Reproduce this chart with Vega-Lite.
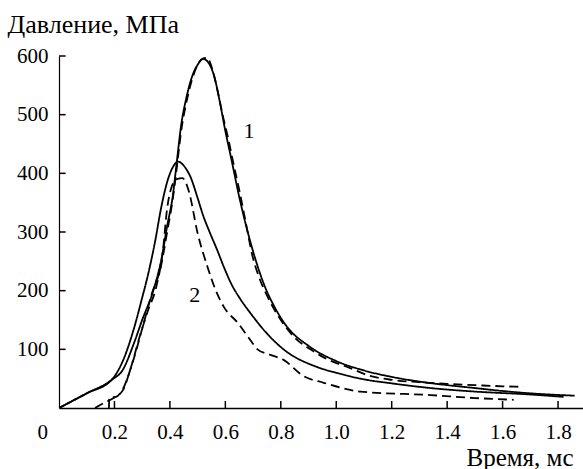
{
  "$schema": "https://vega.github.io/schema/vega-lite/v6.json",
  "width": 524,
  "height": 352,
  "autosize": {"type": "none"},
  "padding": {"left": 59, "top": 56, "right": 0, "bottom": 61},
  "background": "white",
  "config": {"view": {"stroke": null}, "font": "Liberation Serif"},
  "datasets": {
    "curves": [
      {"series": "1s", "style": "solid", "t": 0, "p": 0},
      {"series": "1s", "style": "solid", "t": 0.1, "p": 25},
      {"series": "1s", "style": "solid", "t": 0.19, "p": 48},
      {"series": "1s", "style": "solid", "t": 0.23, "p": 65},
      {"series": "1s", "style": "solid", "t": 0.27, "p": 110},
      {"series": "1s", "style": "solid", "t": 0.30, "p": 150},
      {"series": "1s", "style": "solid", "t": 0.34, "p": 200},
      {"series": "1s", "style": "solid", "t": 0.37, "p": 255},
      {"series": "1s", "style": "solid", "t": 0.39, "p": 310},
      {"series": "1s", "style": "solid", "t": 0.41, "p": 360},
      {"series": "1s", "style": "solid", "t": 0.425, "p": 420},
      {"series": "1s", "style": "solid", "t": 0.44, "p": 480},
      {"series": "1s", "style": "solid", "t": 0.46, "p": 530},
      {"series": "1s", "style": "solid", "t": 0.48, "p": 565},
      {"series": "1s", "style": "solid", "t": 0.50, "p": 585},
      {"series": "1s", "style": "solid", "t": 0.52, "p": 595},
      {"series": "1s", "style": "solid", "t": 0.54, "p": 588},
      {"series": "1s", "style": "solid", "t": 0.56, "p": 565},
      {"series": "1s", "style": "solid", "t": 0.58, "p": 522},
      {"series": "1s", "style": "solid", "t": 0.60, "p": 472},
      {"series": "1s", "style": "solid", "t": 0.62, "p": 428},
      {"series": "1s", "style": "solid", "t": 0.65, "p": 360},
      {"series": "1s", "style": "solid", "t": 0.70, "p": 267},
      {"series": "1s", "style": "solid", "t": 0.74, "p": 210},
      {"series": "1s", "style": "solid", "t": 0.78, "p": 170},
      {"series": "1s", "style": "solid", "t": 0.82, "p": 140},
      {"series": "1s", "style": "solid", "t": 0.90, "p": 106},
      {"series": "1s", "style": "solid", "t": 1.0, "p": 80},
      {"series": "1s", "style": "solid", "t": 1.1, "p": 64},
      {"series": "1s", "style": "solid", "t": 1.2, "p": 53},
      {"series": "1s", "style": "solid", "t": 1.3, "p": 45},
      {"series": "1s", "style": "solid", "t": 1.4, "p": 39},
      {"series": "1s", "style": "solid", "t": 1.5, "p": 34},
      {"series": "1s", "style": "solid", "t": 1.6, "p": 29},
      {"series": "1s", "style": "solid", "t": 1.7, "p": 25},
      {"series": "1s", "style": "solid", "t": 1.86, "p": 21},

      {"series": "2s", "style": "solid", "t": 0, "p": 0},
      {"series": "2s", "style": "solid", "t": 0.1, "p": 25},
      {"series": "2s", "style": "solid", "t": 0.19, "p": 48},
      {"series": "2s", "style": "solid", "t": 0.23, "p": 80},
      {"series": "2s", "style": "solid", "t": 0.27, "p": 135},
      {"series": "2s", "style": "solid", "t": 0.30, "p": 188},
      {"series": "2s", "style": "solid", "t": 0.32, "p": 225},
      {"series": "2s", "style": "solid", "t": 0.345, "p": 280},
      {"series": "2s", "style": "solid", "t": 0.37, "p": 345},
      {"series": "2s", "style": "solid", "t": 0.39, "p": 385},
      {"series": "2s", "style": "solid", "t": 0.41, "p": 410},
      {"series": "2s", "style": "solid", "t": 0.43, "p": 420},
      {"series": "2s", "style": "solid", "t": 0.45, "p": 413},
      {"series": "2s", "style": "solid", "t": 0.475, "p": 393},
      {"series": "2s", "style": "solid", "t": 0.50, "p": 358},
      {"series": "2s", "style": "solid", "t": 0.52, "p": 328},
      {"series": "2s", "style": "solid", "t": 0.545, "p": 298},
      {"series": "2s", "style": "solid", "t": 0.57, "p": 270},
      {"series": "2s", "style": "solid", "t": 0.595, "p": 240},
      {"series": "2s", "style": "solid", "t": 0.62, "p": 213},
      {"series": "2s", "style": "solid", "t": 0.655, "p": 185},
      {"series": "2s", "style": "solid", "t": 0.69, "p": 162},
      {"series": "2s", "style": "solid", "t": 0.75, "p": 127},
      {"series": "2s", "style": "solid", "t": 0.81, "p": 100},
      {"series": "2s", "style": "solid", "t": 0.93, "p": 70},
      {"series": "2s", "style": "solid", "t": 1.0, "p": 60},
      {"series": "2s", "style": "solid", "t": 1.11, "p": 48},
      {"series": "2s", "style": "solid", "t": 1.2, "p": 42},
      {"series": "2s", "style": "solid", "t": 1.34, "p": 34},
      {"series": "2s", "style": "solid", "t": 1.5, "p": 28},
      {"series": "2s", "style": "solid", "t": 1.7, "p": 23},
      {"series": "2s", "style": "solid", "t": 1.82, "p": 19},

      {"series": "1d", "style": "dashed", "t": 0.18, "p": 0},
      {"series": "1d", "style": "dashed", "t": 0.182, "p": 18},
      {"series": "1d", "style": "dashed", "t": 0.205, "p": 19},
      {"series": "1d", "style": "dashed", "t": 0.23, "p": 32},
      {"series": "1d", "style": "dashed", "t": 0.265, "p": 77},
      {"series": "1d", "style": "dashed", "t": 0.30, "p": 135},
      {"series": "1d", "style": "dashed", "t": 0.335, "p": 195},
      {"series": "1d", "style": "dashed", "t": 0.367, "p": 240},
      {"series": "1d", "style": "dashed", "t": 0.39, "p": 300},
      {"series": "1d", "style": "dashed", "t": 0.41, "p": 355},
      {"series": "1d", "style": "dashed", "t": 0.425, "p": 410},
      {"series": "1d", "style": "dashed", "t": 0.44, "p": 470},
      {"series": "1d", "style": "dashed", "t": 0.46, "p": 522},
      {"series": "1d", "style": "dashed", "t": 0.48, "p": 560},
      {"series": "1d", "style": "dashed", "t": 0.50, "p": 585},
      {"series": "1d", "style": "dashed", "t": 0.52, "p": 596},
      {"series": "1d", "style": "dashed", "t": 0.535, "p": 597},
      {"series": "1d", "style": "dashed", "t": 0.55, "p": 582},
      {"series": "1d", "style": "dashed", "t": 0.57, "p": 545},
      {"series": "1d", "style": "dashed", "t": 0.59, "p": 500},
      {"series": "1d", "style": "dashed", "t": 0.61, "p": 460},
      {"series": "1d", "style": "dashed", "t": 0.63, "p": 415},
      {"series": "1d", "style": "dashed", "t": 0.65, "p": 372},
      {"series": "1d", "style": "dashed", "t": 0.67, "p": 325},
      {"series": "1d", "style": "dashed", "t": 0.70, "p": 255},
      {"series": "1d", "style": "dashed", "t": 0.72, "p": 225},
      {"series": "1d", "style": "dashed", "t": 0.753, "p": 189},
      {"series": "1d", "style": "dashed", "t": 0.80, "p": 150},
      {"series": "1d", "style": "dashed", "t": 0.85, "p": 120},
      {"series": "1d", "style": "dashed", "t": 0.907, "p": 100},
      {"series": "1d", "style": "dashed", "t": 0.96, "p": 85},
      {"series": "1d", "style": "dashed", "t": 1.05, "p": 68},
      {"series": "1d", "style": "dashed", "t": 1.12, "p": 55},
      {"series": "1d", "style": "dashed", "t": 1.2, "p": 48},
      {"series": "1d", "style": "dashed", "t": 1.3, "p": 44},
      {"series": "1d", "style": "dashed", "t": 1.4, "p": 41},
      {"series": "1d", "style": "dashed", "t": 1.5, "p": 39},
      {"series": "1d", "style": "dashed", "t": 1.6, "p": 37},
      {"series": "1d", "style": "dashed", "t": 1.675, "p": 36},

      {"series": "2d", "style": "dashed", "t": 0.13, "p": 0},
      {"series": "2d", "style": "dashed", "t": 0.16, "p": 8},
      {"series": "2d", "style": "dashed", "t": 0.20, "p": 18},
      {"series": "2d", "style": "dashed", "t": 0.23, "p": 30},
      {"series": "2d", "style": "dashed", "t": 0.26, "p": 70},
      {"series": "2d", "style": "dashed", "t": 0.29, "p": 120},
      {"series": "2d", "style": "dashed", "t": 0.32, "p": 165},
      {"series": "2d", "style": "dashed", "t": 0.35, "p": 205},
      {"series": "2d", "style": "dashed", "t": 0.375, "p": 269},
      {"series": "2d", "style": "dashed", "t": 0.39, "p": 340},
      {"series": "2d", "style": "dashed", "t": 0.405, "p": 375},
      {"series": "2d", "style": "dashed", "t": 0.425, "p": 390},
      {"series": "2d", "style": "dashed", "t": 0.445, "p": 392},
      {"series": "2d", "style": "dashed", "t": 0.468, "p": 370},
      {"series": "2d", "style": "dashed", "t": 0.50, "p": 298},
      {"series": "2d", "style": "dashed", "t": 0.536, "p": 240},
      {"series": "2d", "style": "dashed", "t": 0.565, "p": 201},
      {"series": "2d", "style": "dashed", "t": 0.595, "p": 172},
      {"series": "2d", "style": "dashed", "t": 0.645, "p": 145},
      {"series": "2d", "style": "dashed", "t": 0.69, "p": 116},
      {"series": "2d", "style": "dashed", "t": 0.716, "p": 100},
      {"series": "2d", "style": "dashed", "t": 0.76, "p": 91},
      {"series": "2d", "style": "dashed", "t": 0.81, "p": 82},
      {"series": "2d", "style": "dashed", "t": 0.88, "p": 55},
      {"series": "2d", "style": "dashed", "t": 0.955, "p": 43},
      {"series": "2d", "style": "dashed", "t": 1.087, "p": 28},
      {"series": "2d", "style": "dashed", "t": 1.34, "p": 22},
      {"series": "2d", "style": "dashed", "t": 1.5, "p": 17},
      {"series": "2d", "style": "dashed", "t": 1.64, "p": 14}
    ],
    "labels": [
      {"t": 0.685, "p": 472, "label": "1", "italic": "italic"},
      {"t": 0.49, "p": 193, "label": "2", "italic": "normal"}
    ],
    "xticks": [
      {"t": 0.2}, {"t": 0.4}, {"t": 0.6}, {"t": 0.8}, {"t": 1.0},
      {"t": 1.2}, {"t": 1.4}, {"t": 1.6}, {"t": 1.8}
    ],
    "yticks": [
      {"p": 100}, {"p": 200}, {"p": 300}, {"p": 400}, {"p": 500}, {"p": 600}
    ]
  },
  "layer": [
    {
      "data": {"name": "xticks"},
      "mark": {"type": "rule", "color": "black", "strokeWidth": 1.5},
      "encoding": {
        "x": {"field": "t", "type": "quantitative", "scale": {"domain": [0, 1.89], "nice": false, "zero": false}},
        "y": {"datum": 0, "type": "quantitative", "scale": {"domain": [0, 600], "nice": false}},
        "y2": {"datum": 12}
      }
    },
    {
      "data": {"name": "yticks"},
      "mark": {"type": "rule", "color": "black", "strokeWidth": 1.5},
      "encoding": {
        "y": {"field": "p", "type": "quantitative"},
        "x": {"datum": 0, "type": "quantitative"},
        "x2": {"datum": 0.024}
      }
    },
    {
      "data": {"name": "curves"},
      "mark": {"type": "line", "color": "black", "strokeWidth": 1.8, "clip": true, "interpolate": "monotone"},
      "encoding": {
        "x": {
          "field": "t", "type": "quantitative",
          "axis": {
            "values": [0, 0.2, 0.4, 0.6, 0.8, 1.0, 1.2, 1.4, 1.6, 1.8],
            "labelExpr": "datum.value == 0 ? '0' : format(datum.value, '.1f')",
            "labelOffset": {"condition": {"test": "datum.value == 0", "value": -22}, "value": 0},
            "ticks": false,
            "labelPadding": 13,
            "labelFontSize": 21,
            "labelColor": "black",
            "labelFont": "Liberation Serif",
            "domainColor": "black",
            "domainWidth": 1.5,
            "grid": false,
            "title": "Время, мс",
            "titleFont": "Liberation Serif",
            "titleFontSize": 25,
            "titleFontWeight": "normal",
            "titleColor": "black",
            "titleAlign": "right",
            "titleBaseline": "alphabetic",
            "titleX": 514,
            "titleY": 57
          }
        },
        "y": {
          "field": "p", "type": "quantitative",
          "axis": {
            "values": [100, 200, 300, 400, 500, 600],
            "ticks": false,
            "labelPadding": 11,
            "labelFontSize": 21,
            "labelColor": "black",
            "labelFont": "Liberation Serif",
            "domainColor": "black",
            "domainWidth": 1.2,
            "grid": false,
            "title": "Давление, МПа",
            "titleFont": "Liberation Serif",
            "titleFontSize": 26,
            "titleFontWeight": "normal",
            "titleColor": "black",
            "titleAngle": 0,
            "titleAlign": "left",
            "titleBaseline": "alphabetic",
            "titleX": -52,
            "titleY": -24
          }
        },
        "detail": {"field": "series"},
        "strokeDash": {
          "field": "style", "type": "nominal",
          "scale": {"domain": ["solid", "dashed"], "range": [[1, 0], [9, 5]]},
          "legend": null
        }
      }
    },
    {
      "data": {"name": "labels"},
      "mark": {"type": "text", "font": "Liberation Serif", "fontSize": 22, "color": "black"},
      "encoding": {
        "x": {"field": "t", "type": "quantitative"},
        "y": {"field": "p", "type": "quantitative"},
        "text": {"field": "label"},
        "fontStyle": {"field": "italic", "type": "nominal", "scale": null}
      }
    }
  ]
}
